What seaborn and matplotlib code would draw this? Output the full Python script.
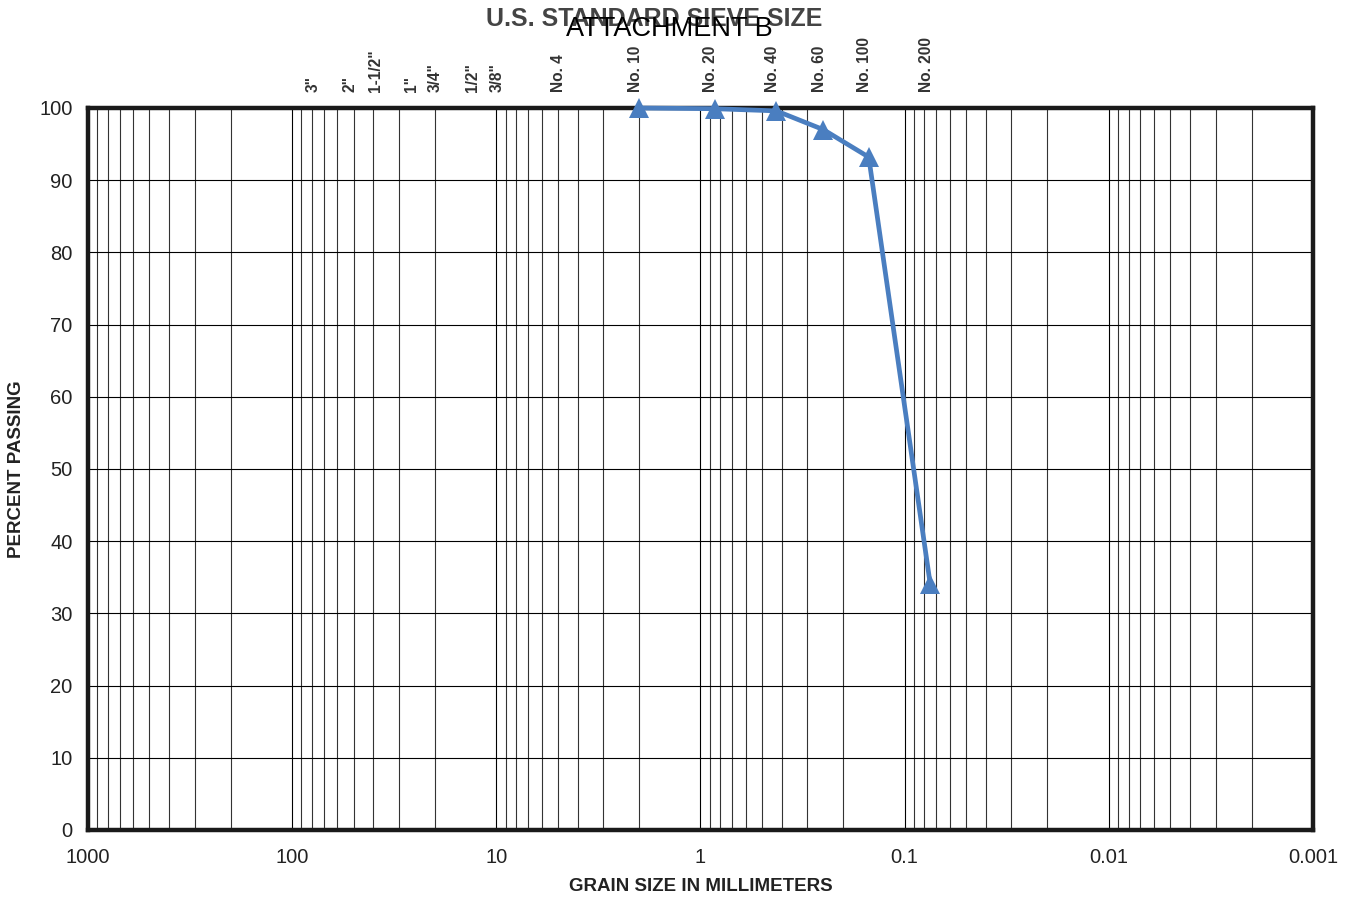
import numpy as np
import pandas as pd
import seaborn as sns
import matplotlib.pyplot as plt
from matplotlib import use
from matplotlib.transforms import offset_copy
from matplotlib.ticker import LogLocator, FixedLocator, NullFormatter

use('agg')

# sieve test results
sieve_names = ['No. 10', 'No. 20', 'No. 40', 'No. 60', 'No. 100', 'No. 200']
grain_size_mm = [2.0, 0.85, 0.425, 0.25, 0.15, 0.075]
percent_passing = [100.0, 99.9, 99.6, 97.0, 93.2, 34.1]

# U.S. standard sieve openings shown along the top
top_labels = ['3"', '2"', '1-1/2"', '1"', '3/4"', '1/2"', '3/8"', 'No. 4',
              'No. 10', 'No. 20', 'No. 40', 'No. 60', 'No. 100', 'No. 200']
top_sizes = [75, 50, 37.5, 25, 19, 12.5, 9.5, 4.75,
             2.0, 0.85, 0.425, 0.25, 0.15, 0.075]

x_ticks = [1000, 100, 10, 1, 0.1, 0.01, 0.001]
x_tick_labels = ['1000', '100', '10', '1', '0.1', '0.01', '0.001']
y_ticks = list(range(0, 101, 10))

df = pd.DataFrame({'size': grain_size_mm, 'passing': percent_passing})

sns.set_theme(style='white')
plt.rcParams['font.family'] = ['Liberation Sans', 'DejaVu Sans']

fig = plt.figure(figsize=(13.51, 8.97), dpi=100)
ax = fig.add_axes([0.0651, 0.0747, 0.9068, 0.8049])

sns.lineplot(data=df, x='size', y='passing', ax=ax, color='#4a7ec0',
             linewidth=3.4, marker='^', markersize=14, markeredgewidth=0,
             zorder=5, clip_on=False)

ax.set_xscale('log')
ax.set_xlim(1000, 0.001)
ax.set_ylim(0, 100)

ax.xaxis.set_major_locator(FixedLocator(x_ticks))
ax.set_xticks(x_ticks)
ax.set_xticklabels(x_tick_labels, fontsize=14.5)
ax.xaxis.set_minor_locator(LogLocator(base=10, subs=np.arange(2, 10)))
ax.xaxis.set_minor_formatter(NullFormatter())
ax.set_yticks(y_ticks)
ax.set_yticklabels([str(v) for v in y_ticks], fontsize=14.5)
ax.tick_params(axis='x', which='both', length=0, pad=13, colors='#222222')
ax.tick_params(axis='y', which='both', length=0, pad=11, colors='#222222')

ax.grid(True, which='major', axis='both', color='black', linewidth=0.8)
ax.grid(True, which='minor', axis='x', color='#333333', linewidth=0.8)

for s in ax.spines.values():
    s.set_linewidth(3.2)
    s.set_color('#1a1a1a')

ax.set_xlabel('GRAIN SIZE IN MILLIMETERS', fontsize=13.5, fontweight='bold',
              color='#222222')
ax.set_ylabel('PERCENT PASSING', fontsize=13.5, fontweight='bold',
              color='#222222')
ax.xaxis.set_label_coords(0.5, -0.066)
ax.yaxis.set_label_coords(-0.0515, 0.5)

# sieve labels along top, nudged a little left like the original sheet
lab_trans = offset_copy(ax.transData, fig=fig, x=-4, y=0, units='dots')
for lab, sz in zip(top_labels, top_sizes):
    ax.text(sz, 102.2, lab, rotation=90, ha='center', va='bottom',
            fontsize=11.2, fontweight='bold', color='#333333',
            transform=lab_trans, clip_on=False)

fig.text(0.484, 0.979, 'U.S. STANDARD SIEVE SIZE', ha='center', va='center',
         fontsize=18, fontweight='bold', color='#444444')
fig.text(0.4952, 0.968, 'ATTACHMENT B', ha='center', va='center',
         fontsize=19.5, color='black')

plt.savefig('out.png', dpi=100)
